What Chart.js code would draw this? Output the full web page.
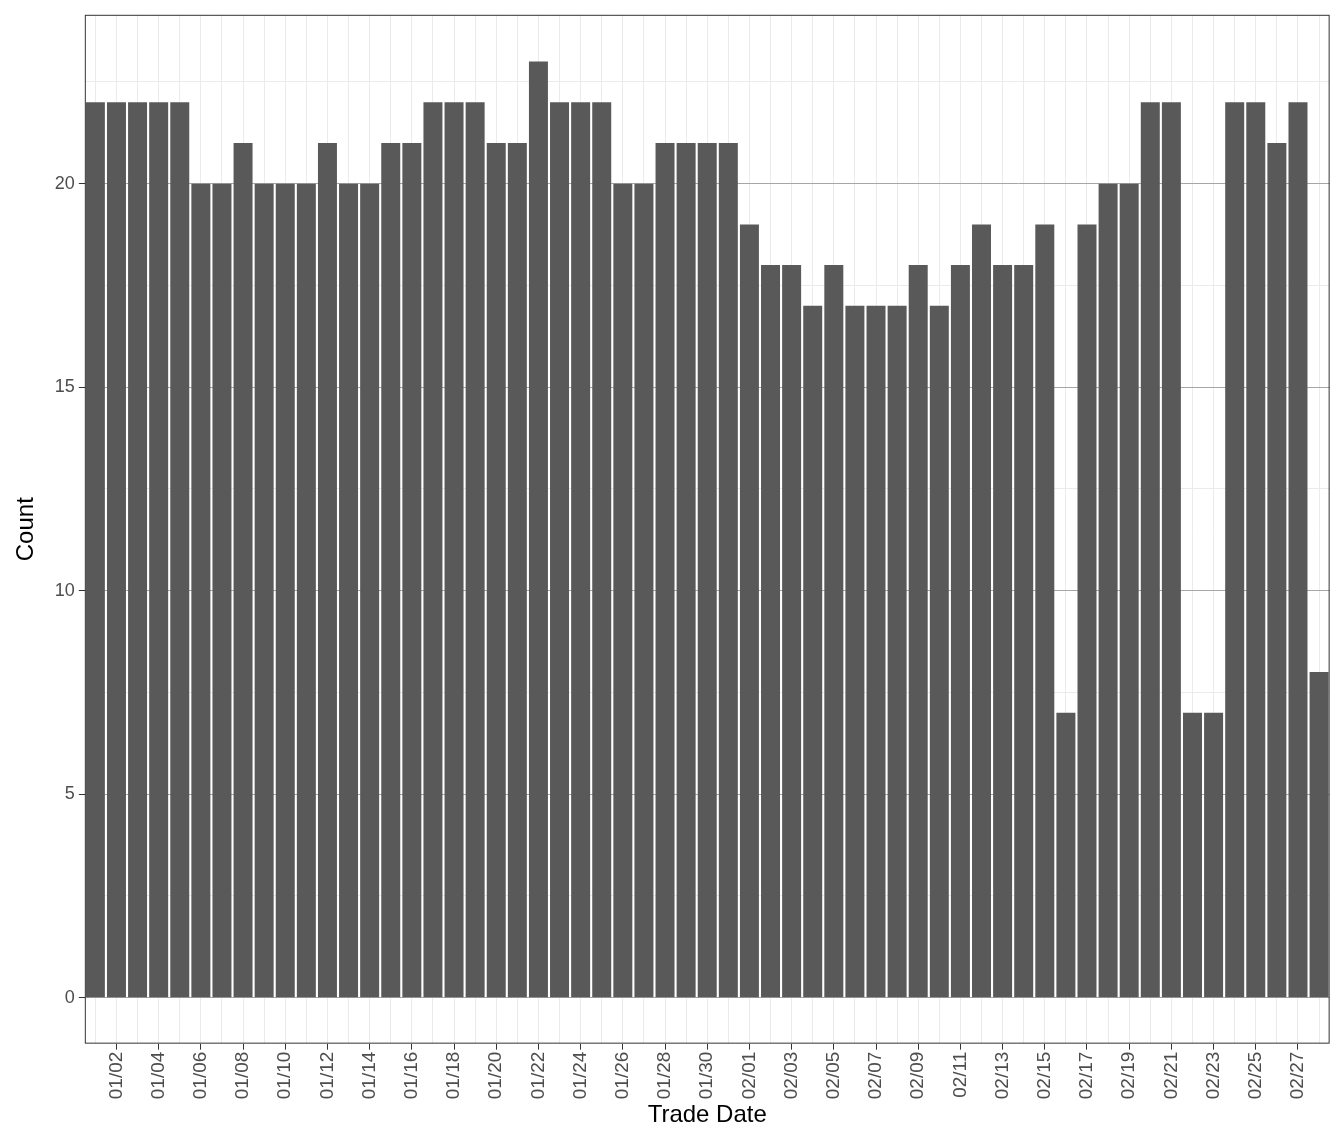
<!DOCTYPE html>
<html>
<head>
<meta charset="utf-8">
<script src="https://cdn.jsdelivr.net/npm/chart.js@4"></script>
<style>
  html, body { margin: 0; padding: 0; background: #fff; }
  #wrap { width: 1344px; height: 1142px; }
</style>
</head>
<body>
<div id="wrap"><canvas id="chart"></canvas></div>
<script>
var dates = [
  '01/01','01/02','01/03','01/04','01/05','01/06','01/07','01/08','01/09','01/10',
  '01/11','01/12','01/13','01/14','01/15','01/16','01/17','01/18','01/19','01/20',
  '01/21','01/22','01/23','01/24','01/25','01/26','01/27','01/28','01/29','01/30',
  '01/31','02/01','02/02','02/03','02/04','02/05','02/06','02/07','02/08','02/09',
  '02/10','02/11','02/12','02/13','02/14','02/15','02/16','02/17','02/18','02/19',
  '02/20','02/21','02/22','02/23','02/24','02/25','02/26','02/27','02/28'
];
var counts = [
  22,22,22,22,22,20,20,21,20,20,
  20,21,20,20,21,21,22,22,22,21,
  21,23,22,22,22,20,20,21,21,21,
  21,19,18,18,17,18,17,17,17,18,
  17,18,19,18,18,19,7,19,20,20,
  22,22,7,7,22,22,21,22,8
];
var yTicks = [0, 2.5, 5, 7.5, 10, 12.5, 15, 17.5, 20, 22.5];

var frame = {
  id: 'frame',
  afterDraw: function(chart) {
    var a = chart.chartArea, c = chart.ctx;
    c.save();
    c.strokeStyle = '#333333';
    c.lineWidth = 1;
    c.strokeRect(a.left + 0.5, a.top + 0.5, a.right - a.left - 1, a.bottom - a.top - 1);
    c.restore();
  }
};

new Chart(document.getElementById('chart'), {
  type: 'bar',
  data: {
    labels: dates,
    datasets: [{
      data: counts,
      backgroundColor: '#595959',
      borderWidth: 0,
      categoryPercentage: 0.9,
      barPercentage: 1
    }]
  },
  options: {
    responsive: true,
    maintainAspectRatio: false,
    animation: false,
    layout: { padding: { left: 8, right: 14, top: 14, bottom: 8 } },
    plugins: { legend: { display: false }, tooltip: { enabled: false } },
    scales: {
      x: {
        offset: true,
        grid: {
          offset: false,
          color: '#ebebeb',
          tickLength: 6,
          tickColor: function(ctx) { return ctx.index % 2 === 1 ? '#333333' : 'rgba(0,0,0,0)'; }
        },
        border: { display: false },
        ticks: {
          autoSkip: false,
          maxRotation: 90,
          minRotation: 90,
          color: '#4d4d4d',
          font: { family: 'Liberation Sans', size: 19 },
          padding: 2,
          callback: function(v, i) { return i % 2 === 1 ? dates[i] : ''; }
        },
        title: {
          display: true,
          text: 'Trade Date',
          color: '#000',
          font: { family: 'Liberation Sans', size: 24 },
          padding: { top: 0 }
        }
      },
      y: {
        min: -1.13,
        max: 24.15,
        afterBuildTicks: function(axis) {
          axis.ticks = yTicks.map(function(v) { return { value: v }; });
        },
        grid: {
          color: function(ctx) { return ctx.tick && ctx.tick.value % 5 === 0 ? '#a6a6a6' : '#ebebeb'; },
          tickLength: 6,
          tickColor: function(ctx) { return ctx.tick && ctx.tick.value % 5 === 0 ? '#333333' : 'rgba(0,0,0,0)'; }
        },
        border: { display: false },
        ticks: {
          color: '#4d4d4d',
          font: { family: 'Liberation Sans', size: 18 },
          padding: 4,
          callback: function(v) { return v % 5 === 0 ? v : ''; }
        },
        title: {
          display: true,
          text: 'Count',
          color: '#000',
          font: { family: 'Liberation Sans', size: 24 },
          padding: { bottom: 10 }
        }
      }
    }
  },
  plugins: [frame]
});
</script>
</body>
</html>
